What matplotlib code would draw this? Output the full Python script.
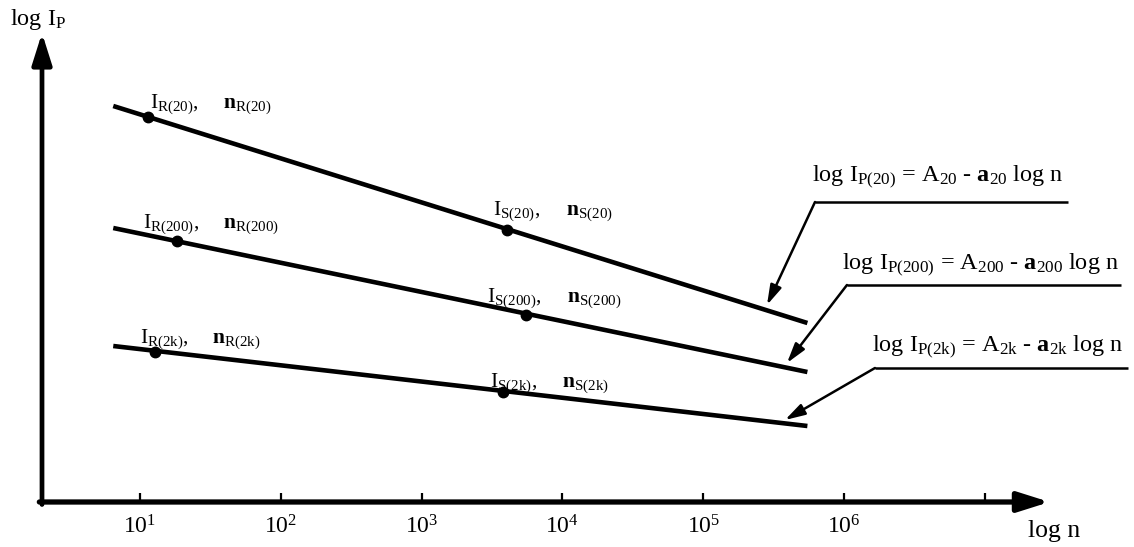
import matplotlib
matplotlib.use("Agg")
import matplotlib.pyplot as plt

plt.rcParams['font.family'] = ['Liberation Serif', 'DejaVu Serif']
plt.rcParams['mathtext.fontset'] = 'custom'
plt.rcParams['mathtext.rm'] = 'Liberation Serif'
plt.rcParams['mathtext.it'] = 'Liberation Serif:italic'
plt.rcParams['mathtext.bf'] = 'Liberation Serif:bold'

# ---------------- data (schematic) ----------------
series = ['20', '200', '2k']
line_start_logn = [0.81, 0.81, 0.81]
line_end_logn = [5.74, 5.74, 5.74]
line_start_y = [3.96, 2.74, 1.56]
line_end_y = [1.79, 1.30, 0.76]
r_point_logn = [1.06, 1.26, 1.11]
r_point_y = [3.85, 2.61, 1.50]
s_point_logn = [3.61, 3.74, 3.58]
s_point_y = [2.72, 1.87, 1.10]
tick_exponents = [1, 2, 3, 4, 5, 6, 7]
tick_labels = ['$10^{1}$', '$10^{2}$', '$10^{3}$', '$10^{4}$', '$10^{5}$', '$10^{6}$', '']

# ---------------- figure ----------------
fig = plt.figure(figsize=(11.34, 5.47), dpi=100)
ax = fig.add_axes([0, 0, 1, 1])
ax.set_xlim(1 - 140 / 140.8, 1 + 994 / 140.8)
ax.set_ylim(-0.45, 5.02)
ax.axis('off')

# axes with arrows
ax.annotate('', xy=(0.304, 4.69), xytext=(0.304, -0.025),
            arrowprops=dict(arrowstyle='-|>,head_length=1.9,head_width=0.6',
                            lw=3.4, color='black', shrinkA=0, shrinkB=0,
                            mutation_scale=10))
ax.annotate('', xy=(7.46, 0.0), xytext=(0.285, 0.0),
            arrowprops=dict(arrowstyle='-|>,head_length=1.9,head_width=0.6',
                            lw=3.8, color='black', shrinkA=0, shrinkB=0,
                            mutation_scale=10))

# ticks and tick labels
for e, lab in zip(tick_exponents, tick_labels):
    ax.plot([e, e], [0, 0.095], color='black', lw=1.6, solid_capstyle='butt')
    if lab:
        ax.text(e, -0.31, lab, ha='center', va='baseline', fontsize=17)

# axis titles
ax.text(0.077, 4.77, r'log $\mathrm{I}_{\mathrm{P}}$', fontsize=17.5, va='baseline', ha='left')
ax.text(7.307, -0.355, 'log n', fontsize=18.5, va='baseline', ha='left')

# lines and points
for i, s in enumerate(series):
    ax.plot([line_start_logn[i], line_end_logn[i]], [line_start_y[i], line_end_y[i]],
            color='black', lw=3.3, solid_capstyle='butt')
    ax.plot([r_point_logn[i], s_point_logn[i]], [r_point_y[i], s_point_y[i]],
            linestyle='none', marker='o', ms=7.5, color='black')

# point labels
r_label_pos = [(1.071, 3.94), (1.021, 2.74), (1.0, 1.59)]
s_label_pos = [(3.507, 2.87), (3.464, 2.00), (3.486, 1.15)]
n_offset = [0.52, 0.57, 0.51]
for i, s in enumerate(series):
    for pos, tag in ((r_label_pos[i], 'R'), (s_label_pos[i], 'S')):
        ax.text(pos[0], pos[1], r'$\mathrm{I}_{\mathrm{%s(%s)}}$,' % (tag, s),
                fontsize=15.5, va='baseline', ha='left')
        ax.text(pos[0] + n_offset[i], pos[1], r'$\mathbf{n}_{\mathrm{%s(%s)}}$' % (tag, s),
                fontsize=15.5, va='baseline', ha='left')

# equation labels with underline and leader arrows
eq_pos = [(5.773, 3.20), (5.986, 2.32), (6.199, 1.50)]
underline = [((5.794, 7.591), 3.00), ((6.021, 7.967), 2.17), ((6.220, 8.017), 1.34)]
tips = [(5.453, 1.97), (5.595, 1.39), (5.581, 0.82)]
for i, s in enumerate(series):
    eq = (r'log $\mathrm{I}_{\mathrm{P(%s)}}$ = $\mathrm{A}_{\mathrm{%s}}$ - '
          r'$\mathbf{a}_{\mathrm{%s}}$ log n' % (s, s, s))
    ax.text(*eq_pos[i], eq, fontsize=17.5, va='baseline', ha='left')
    (ux0, ux1), uy = underline[i]
    ax.plot([ux0, ux1], [uy, uy], color='black', lw=1.8, solid_capstyle='butt')
    ax.annotate('', xy=tips[i], xytext=(ux0, uy),
                arrowprops=dict(arrowstyle='-|>,head_length=1.2,head_width=0.35',
                                lw=1.8, color='black', shrinkA=0, shrinkB=0,
                                mutation_scale=10))

fig.savefig('out.png', dpi=100)
